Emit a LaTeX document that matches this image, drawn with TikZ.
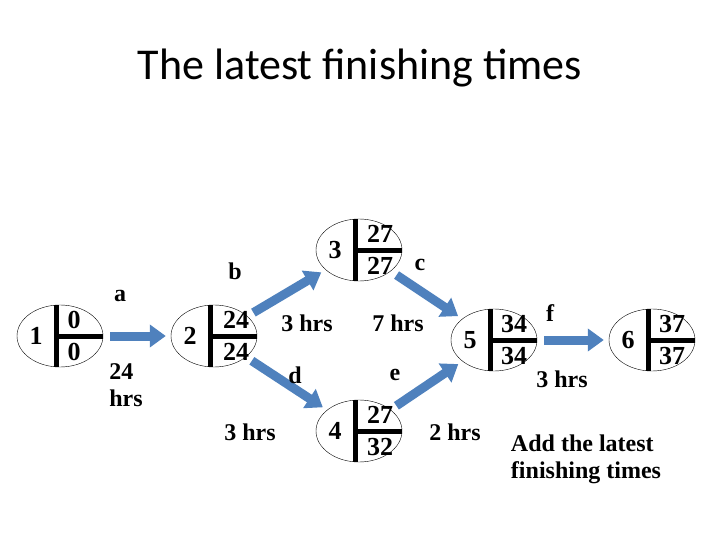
\documentclass[tikz,border=0pt]{standalone}
\usepackage{fontspec}
\setmainfont{Liberation Serif}
\newfontfamily\titlefont{Carlito}
\usetikzlibrary{arrows.meta,shapes.geometric}
\definecolor{ArrBlue}{RGB}{79,129,189}
\tikzset{
  event/.style={draw,ellipse,thin,minimum width=86pt,minimum height=62pt,inner sep=0pt},
  blockarrow/.style={ArrBlue,line width=9pt,-{Triangle[length=16pt,width=22pt]},shorten <=7pt,shorten >=5pt},
  lbl/.style={font=\bfseries\fontsize{24}{27}\selectfont},
  num/.style={font=\bfseries\fontsize{26}{28}\selectfont},
}
\newcommand\eventbox[5]{% name, x, y, number, top/bottom
  \node[event] (#1) at (#2,#3) {};
  \draw[line width=5pt] (#2-4,#3-31) -- (#2-4,#3+31);
  \draw[line width=5pt] (#2-4,#3) -- (#1.east);
  \node[num] at (#2-24,#3) {#4};
  #5}
\begin{document}
\begin{tikzpicture}[x=1pt,y=-1pt]
\useasboundingbox (0,0) rectangle (720,540);
\node[font=\titlefont\fontsize{44}{48}\selectfont] (title) at (360,68) {The latest finishing times};
% events
\eventbox{n1}{60}{336}{1}{\node[num] at (74,320) {0}; \node[num] at (74,352) {0};}
\eventbox{n2}{214}{336}{2}{\node[num] at (236,320) {24}; \node[num] at (236,352) {24};}
\eventbox{n3}{359}{250}{3}{\node[num] at (380,234) {27}; \node[num] at (380,266) {27};}
\eventbox{n4}{359}{431}{4}{\node[num] at (380,415) {27}; \node[num] at (380,447) {32};}
\eventbox{n5}{494}{340}{5}{\node[num] at (514,324) {34}; \node[num] at (514,356) {34};}
\eventbox{n6}{652}{340}{6}{\node[num] at (672,324) {37}; \node[num] at (672,356) {37};}
% activities
\draw[blockarrow] (n1) -- (n2);
\draw[blockarrow] (n2) -- (n3);
\draw[blockarrow] (n2) -- (n4);
\draw[blockarrow] (n3) -- (n5);
\draw[blockarrow] (n4) -- (n5);
\draw[blockarrow] (n5) -- (n6);
% labels
\node[lbl] (la) at (120,296) {a};
\node[lbl,align=left] (ta) at (126,385) {24\\hrs};
\node[lbl] (lb) at (235,271) {b};
\node[lbl] (tb) at (307,323) {3 hrs};
\node[lbl] (ld) at (295,375) {d};
\node[lbl] (td) at (250,432) {3 hrs};
\node[lbl] (lc) at (420,265) {c};
\node[lbl] (tc) at (398,323) {7 hrs};
\node[lbl] (le) at (395,375) {e};
\node[lbl] (te) at (455,432) {2 hrs};
\node[lbl] (lf) at (550,313) {f};
\node[lbl] (tf) at (562,379) {3 hrs};
\node[lbl,align=left] (note) at (586,459) {Add the latest\\finishing times};
\end{tikzpicture}
\end{document}
